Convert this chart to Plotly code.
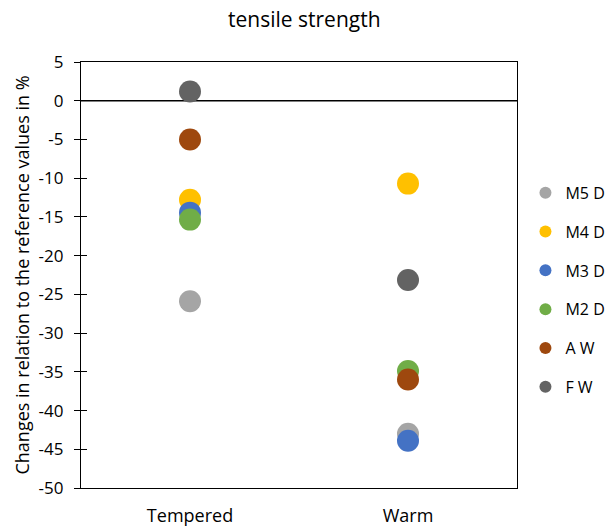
import plotly.graph_objects as go

categories = ["Tempered", "Warm"]
series_names = ["M5 D", "M4 D", "M3 D", "M2 D", "A W", "F W"]
m5_d = [-25.9, -43.0]
m4_d = [-12.8, -10.7]
m3_d = [-14.45, -43.9]
m2_d = [-15.35, -34.9]
a_w = [-5.0, -36.0]
f_w = [1.2, -23.15]
colors = ["#A5A5A5", "#FFC000", "#4472C4", "#70AD47", "#9E480E", "#636363"]
y_ticks = list(range(-50, 6, 5))
y_tick_text = [str(v) for v in y_ticks]

values = [m5_d, m4_d, m3_d, m2_d, a_w, f_w]
FONT = "Open Sans, Liberation Sans, sans-serif"

fig = go.Figure()
for name, vals, col in zip(series_names, values, colors):
    fig.add_trace(go.Scatter(
        x=categories, y=vals, name=name, mode="markers",
        marker=dict(size=22, color=col, line=dict(width=0)),
        legendgroup=name,
    ))

# zero line
fig.add_hline(y=0, line=dict(color="black", width=1.3), layer="below")

fig.update_layout(
    width=616, height=527,
    paper_bgcolor="white", plot_bgcolor="white",
    margin=dict(l=81, r=99, t=62, b=39, autoexpand=False),
    font=dict(family=FONT, size=17, color="#000000"),
    title=dict(text="tensile strength", x=0.494, xanchor="center", xref="container",
               y=0.962, yanchor="middle", font=dict(size=21, family=FONT)),
    xaxis=dict(type="category", range=[-0.5, 1.5], showline=True, linecolor="black",
               linewidth=1.3, mirror=True, ticks="", showgrid=False, automargin=False,
               tickfont=dict(size=18), ticklabelstandoff=11),
    yaxis=dict(range=[-50, 5], tickvals=y_ticks, ticktext=y_tick_text, showline=True,
               linecolor="black", linewidth=1.3, mirror=True, ticks="outside", ticklen=6,
               tickwidth=1.3, tickcolor="black", showgrid=False, zeroline=False,
               automargin=False, tickfont=dict(size=17), ticklabelstandoff=7,
               title=dict(text="Changes in relation to the reference values in %",
                          font=dict(size=18), standoff=4)),
    yaxis2=dict(range=[-50, 5], tickvals=y_ticks, overlaying="y", side="left",
                ticks="inside", ticklen=6, tickwidth=1.3, tickcolor="black",
                showticklabels=False, showgrid=False, zeroline=False, showline=False,
                automargin=False),
    legend=dict(x=0.853, xanchor="left", xref="container", y=0.45, yanchor="middle",
                yref="container",
                font=dict(size=16), tracegroupgap=15, itemsizing="constant",
                bgcolor="rgba(0,0,0,0)", borderwidth=0, itemwidth=30),
    showlegend=True,
)
# empty trace so the inside ticks on yaxis2 are drawn
fig.add_trace(go.Scatter(x=categories, y=[None, None], yaxis="y2", showlegend=False,
                         hoverinfo="skip"))

fig.write_html("out.html")
